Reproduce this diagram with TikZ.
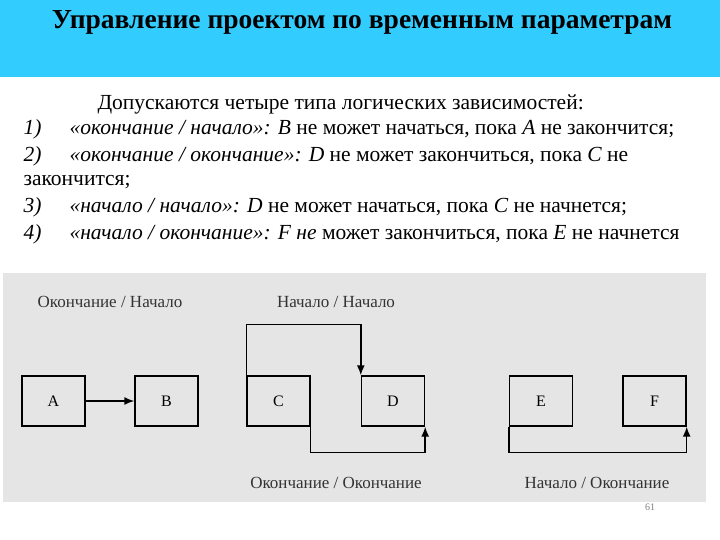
\documentclass[tikz,border=0pt]{standalone}
\usepackage{fontspec}
\setmainfont{Liberation Serif}
\usetikzlibrary{arrows.meta}
\begin{document}
\begin{tikzpicture}[x=1pt,y=-1pt,
  box/.style={draw,line width=1.4pt,minimum width=63pt,minimum height=50pt,inner sep=0pt,font=\fontsize{16}{18}\selectfont},
  lbl/.style={font=\fontsize{17}{19}\selectfont,text=black!80},
  con/.style={line width=1.5pt,-{Latex[length=10pt,width=8pt]}},
  ln/.style={anchor=base west,font=\fontsize{21.5}{24}\selectfont}]
\useasboundingbox (0,0) rectangle (720,540);
\fill[white] (0,0) rectangle (720,540);
\fill[fill={rgb,255:red,51;green,204;blue,255}] (0,0) rectangle (720,77);
\node[font=\bfseries\fontsize{27.5}{30}\selectfont] (title) at (362,22) {Управление проектом по временным параметрам};
\node[ln] (l0) at (94,110) {Допускаются четыре типа логических зависимостей:};
\node[ln] (n1) at (20,135) {\itshape 1)};
\node[ln] (t1) at (66,135) {\itshape «окончание / начало»: B\upshape{} не может начаться, пока \itshape A\upshape{} не закончится;};
\node[ln] (n2) at (20,162) {\itshape 2)};
\node[ln] (t2) at (66,162) {\itshape «окончание / окончание»: D\upshape{} не может закончиться, пока \itshape C\upshape{} не};
\node[ln] (t2b) at (20,186) {закончится;};
\node[ln] (n3) at (20,212) {\itshape 3)};
\node[ln] (t3) at (66,212) {\itshape «начало / начало»: D\upshape{} не может начаться, пока \itshape C\upshape{} не начнется;};
\node[ln] (n4) at (20,240) {\itshape 4)};
\node[ln] (t4) at (66,240) {\itshape «начало / окончание»: F не\upshape{} может закончиться, пока \itshape E\upshape{} не начнется};
\fill[black!10] (3,273) rectangle (706,502);
\node[box] (A) at (53.5,401) {A};
\node[box] (B) at (166.5,401) {B};
\node[box] (C) at (278.5,401) {C};
\node[box] (D) at (393,401) {D};
\node[box] (E) at (541,401) {E};
\node[box] (F) at (654.5,401) {F};
\node[lbl] (L1) at (110,302) {Окончание / Начало};
\node[lbl] (L2) at (336,302) {Начало / Начало};
\node[lbl] (L3) at (336,483) {Окончание / Окончание};
\node[lbl] (L4) at (597,483) {Начало / Окончание};
\node[font=\fontsize{10}{11}\selectfont,text=black!50] (pg) at (650,507) {61};
\draw[con] (A) -- (B);
\draw[con] (C.north west) -- ++(0,-51) -| (D.north west);
\draw[con] (C.south east) -- ++(0,26) -| (D.south east);
\draw[con] (E.south west) -- ++(0,26) -| (F.south east);
\end{tikzpicture}
\end{document}
